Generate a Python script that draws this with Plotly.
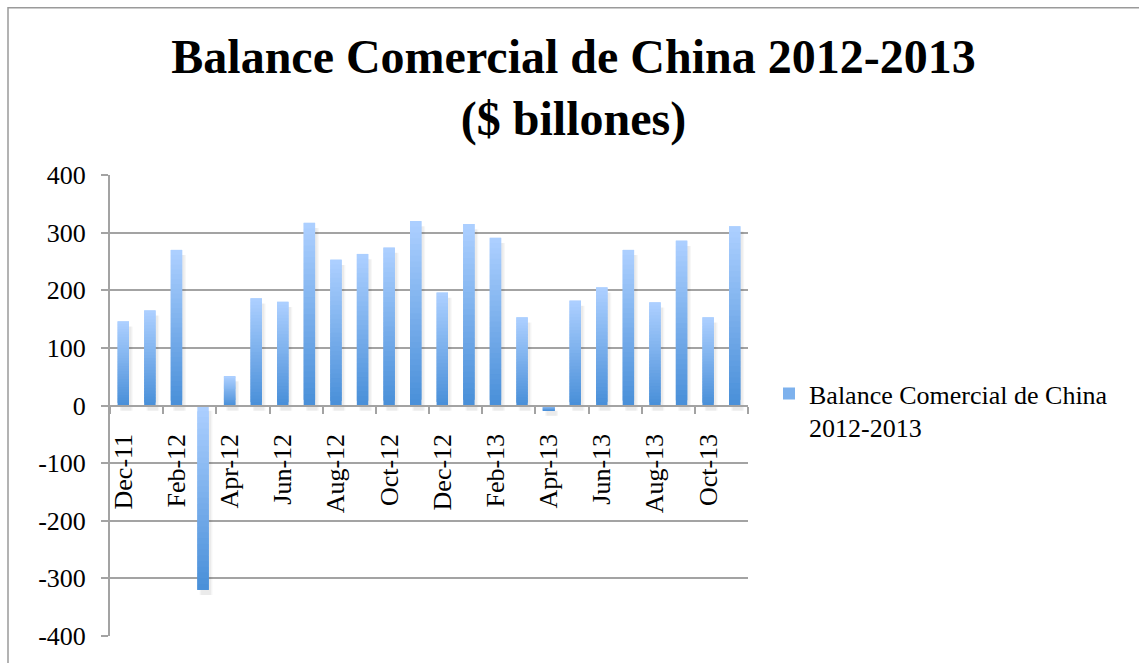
import plotly.graph_objects as go

# Monthly trade balance of China ($ billions)
months = ["Dec-11", "Jan-12", "Feb-12", "Mar-12", "Apr-12", "May-12", "Jun-12",
          "Jul-12", "Aug-12", "Sep-12", "Oct-12", "Nov-12", "Dec-12", "Jan-13",
          "Feb-13", "Mar-13", "Apr-13", "May-13", "Jun-13", "Jul-13", "Aug-13",
          "Sep-13", "Oct-13", "Nov-13"]
balance = [146, 165, 270, -320, 51, 186, 180, 317, 253, 263, 274, 320,
           196, 315, 291, 153, -9, 182, 205, 270, 179, 286, 153, 311]
y_ticks = [-400, -300, -200, -100, 0, 100, 200, 300, 400]
y_tick_text = ["-400", "-300", "-200", "-100", "0", "100", "200", "300", "400"]
series_name = "Balance Comercial de China<br>2012-2013"
title_text = "<b>Balance Comercial de China 2012-2013<br>($ billones)</b>"

W, H = 1139, 663
L, R, T, B = 110, 391, 175, 25
PW, PH = W - L - R, H - T - B
FONT = "Liberation Serif"
GRID = "#a3a3a3"

light = (172, 207, 255)
dark = (74, 144, 217)
N = 32
BAR_W = 0.43

xs = list(range(len(months)))


def mix(t):
    c = [round(dark[i] + (light[i] - dark[i]) * t) for i in range(3)]
    return f"rgb({c[0]},{c[1]},{c[2]})"


fig = go.Figure()

# soft drop shadow behind each bar
for off, alpha in [(0.14, 0.035), (0.09, 0.045)]:
    fig.add_trace(go.Bar(
        x=xs, y=balance, base=[-9] * len(balance), width=BAR_W,
        offset=-BAR_W / 2 + off,
        marker=dict(color=f"rgba(0,0,0,{alpha})", line=dict(width=0)),
        showlegend=False, hoverinfo="skip"))

# vertical gradient: each bar is built from N stacked slices, light at the top
for k in range(N):
    bases = [v * k / N for v in balance]
    heights = [v * (min(k + 2, N) - k) / N for v in balance]
    cols = []
    for v in balance:
        t = k / (N - 1) if v >= 0 else 1 - k / (N - 1)
        cols.append(mix(t))
    fig.add_trace(go.Bar(
        x=xs, y=heights, base=bases, width=BAR_W,
        marker=dict(color=cols, line=dict(width=0)),
        name=series_name, showlegend=(k == N // 2),
        customdata=balance, hovertemplate="%{customdata}<extra></extra>"))

fig.update_layout(
    width=W, height=H,
    margin=dict(l=L, r=R, t=T, b=B),
    paper_bgcolor="white", plot_bgcolor="white",
    barmode="overlay",
    font=dict(family=FONT, size=26, color="black"),
    title=dict(text=title_text, font=dict(family=FONT, size=48, color="black"),
               x=573.5 / W, xref="container", xanchor="center",
               y=1 - 73 / H, yref="container", yanchor="top"),
    legend=dict(x=(769 - L) / PW, y=(H - B - 371) / PH,
                xanchor="left", yanchor="top", valign="top",
                font=dict(family=FONT, size=26, color="black"),
                bgcolor="rgba(0,0,0,0)"),
    xaxis=dict(range=[-0.5, len(months) - 0.5], tickmode="array",
               tickvals=xs[::2], ticktext=months[::2], tickangle=-90,
               ticks="", showgrid=False, zeroline=False,
               showline=True, linecolor=GRID, linewidth=2,
               anchor="free", position=0.5, ticklabelstandoff=17,
               minor=dict(tick0=-0.5, dtick=2, ticks="outside", ticklen=7,
                          tickcolor=GRID, tickwidth=1.5, showgrid=False)),
    yaxis=dict(range=[-400, 400], tickmode="array", tickvals=y_ticks,
               ticktext=y_tick_text, showgrid=True,
               gridcolor=GRID, gridwidth=1.5, zeroline=False,
               showline=True, linecolor=GRID, linewidth=2,
               ticks="outside", ticklen=7, tickcolor=GRID, tickwidth=1.5,
               ticklabelstandoff=10),
    shapes=[dict(type="rect", xref="paper", yref="paper",
                 x0=(8 - L) / PW, x1=(W + 20 - L) / PW,
                 y0=-(B + 20) / PH, y1=(H - B - 7) / PH,
                 line=dict(color="#9a9a9a", width=1.5), fillcolor="rgba(0,0,0,0)",
                 layer="below")],
)

fig.write_html("out.html")
